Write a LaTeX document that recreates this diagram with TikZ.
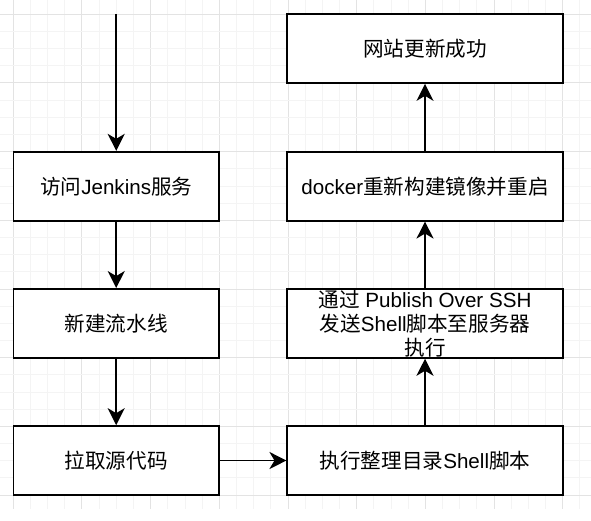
\documentclass[tikz,border=0pt]{standalone}
\usepackage{fontspec}
\setmainfont{Liberation Sans}
\newfontfamily\cjk{Noto Sans CJK SC}
\usetikzlibrary{arrows.meta}
\definecolor{gridminor}{HTML}{F4F4F4}
\definecolor{gridmajor}{HTML}{E3E3E3}
\tikzset{
  flowbox/.style={draw=black, line width=1.7pt, fill=white, minimum height=69pt, inner sep=0pt, align=center, font=\fontsize{20.6}{24}\selectfont},
  leftbox/.style={flowbox, minimum width=205.7pt},
  rightbox/.style={flowbox, minimum width=275.4pt},
  flowarrow/.style={draw=black, line width=1.7pt, -{Stealth[length=17pt, width=17pt, inset=5pt]}}
}
\begin{document}
\begin{tikzpicture}[x=1pt,y=-1pt]
\useasboundingbox (0,0) rectangle (591,520);
\fill[white] (0,0) rectangle (591,520);
% grid
\foreach \k in {0,...,33}{
  \pgfmathsetmacro\xx{13.3+\k*17.17}
  \pgfmathtruncatemacro\m{mod(\k,4)}
  \ifnum\m=0 \draw[gridmajor, line width=1pt] (\xx,0) -- (\xx,509);
  \else \draw[gridminor, line width=1pt] (\xx,0) -- (\xx,509); \fi
}
\foreach \k in {0,...,28}{
  \pgfmathsetmacro\yy{14.3+\k*17.17}
  \pgfmathtruncatemacro\m{mod(\k,4)}
  \ifnum\m=0 \draw[gridmajor, line width=1pt] (0,\yy) -- (591,\yy);
  \else \draw[gridminor, line width=1pt] (0,\yy) -- (591,\yy); \fi
}
% nodes
\coordinate (start) at (116.2,14.3);
\node[leftbox] (visit) at (116.2,186.2) {{\cjk 访问}Jenkins{\cjk 服务}};
\node[leftbox] (pipe) at (116.2,323.4) {\cjk 新建流水线};
\node[leftbox] (pull) at (116.2,460.5) {\cjk 拉取源代码};
\node[rightbox] (tidy) at (425,460.5) {{\cjk 执行整理目录}Shell{\cjk 脚本}};
\node[rightbox] (ssh) at (425,323.4) {};
\node[align=center, font=\fontsize{20.6}{24}\selectfont, inner sep=0pt] (sshtext) at (425,324) {{\cjk 通过} Publish Over SSH\\{\cjk 发送}Shell{\cjk 脚本至服务器}\\{\cjk 执行}};
\node[rightbox] (docker) at (425,186.2) {docker{\cjk 重新构建镜像并重启}};
\node[rightbox] (done) at (425,48.5) {\cjk 网站更新成功};
% connectors
\draw[flowarrow] (start) -- (visit);
\draw[flowarrow] (visit) -- (pipe);
\draw[flowarrow] (pipe) -- (pull);
\draw[flowarrow] (pull) -- (tidy);
\draw[flowarrow] (tidy) -- (ssh);
\draw[flowarrow] (ssh) -- (docker);
\draw[flowarrow] (docker) -- (done);
\end{tikzpicture}
\end{document}
